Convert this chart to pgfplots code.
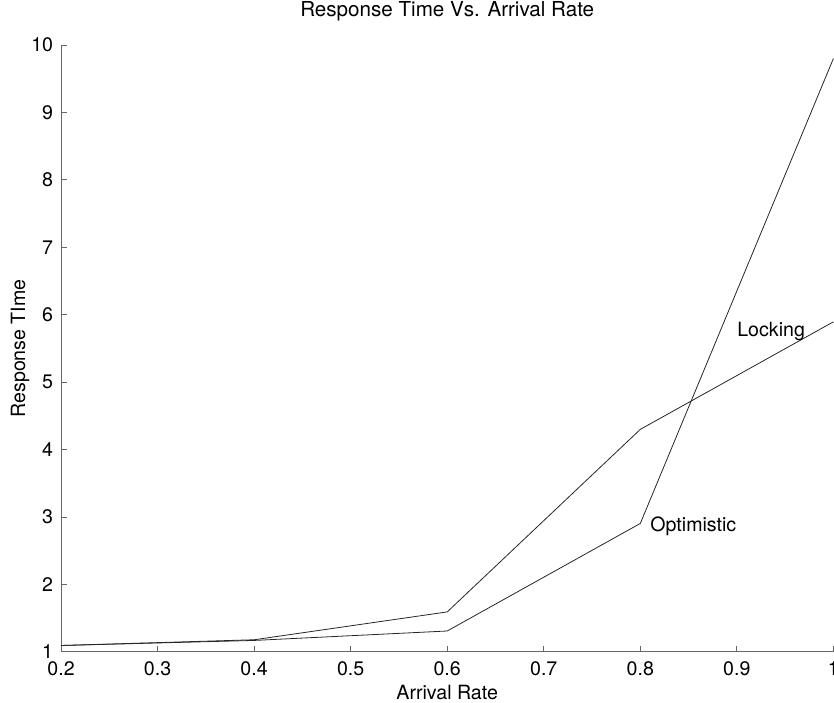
\documentclass[border=0pt]{standalone}
\usepackage{pgfplots}
\pgfplotsset{compat=1.18}
\usepackage{fontspec}
\setmainfont{TeX Gyre Heros}
\begin{document}
\begin{tikzpicture}
\fontsize{9.8}{11}\selectfont
\begin{axis}[
  scale only axis, width=386pt, height=303.3pt,
  xmin=0.2, xmax=1, ymin=1, ymax=10,
  xtick={0.2,0.3,0.4,0.5,0.6,0.7,0.8,0.9,1},
  ytick={1,2,...,10},
  axis lines*=left,
  axis line style={gray!80!black},
  tick style={gray!80!black, line width=0.5pt},
  tick align=inside, major tick length=3pt,
  /pgf/number format/assume math mode=true,
  xticklabel style={anchor=base, yshift=-12pt},
  yticklabel style={anchor=east, xshift=-0.5pt},
  title={Response Time Vs. Arrival Rate},
  title style={at={(axis description cs:0.5,1.0264)}, anchor=base, font=\fontsize{10.3}{12}\selectfont},
  xlabel={Arrival Rate},
  xlabel style={at={(axis description cs:0.5,-0.0791)}, anchor=base},
  ylabel={Response TIme},
  ylabel style={at={(axis description cs:-0.0466,0.5)}, anchor=base},
  clip=false,
]
\addplot[black!85, line width=0.4pt] coordinates {(0.2,1.095)(0.4,1.18)(0.6,1.593)(0.8,4.30)(1.0,5.895)};
\addplot[black!85, line width=0.4pt] coordinates {(0.2,1.095)(0.4,1.17)(0.6,1.31)(0.8,2.905)(1.0,9.80)};
\node[anchor=base west, inner sep=0pt] at (axis cs:0.9,5.68) {Locking};
\node[anchor=base west, inner sep=0pt] at (axis cs:0.81,2.78) {Optimistic};
\coordinate (bl) at (rel axis cs:0,0);
\coordinate (tr) at (rel axis cs:1,1);
\end{axis}
\pgfresetboundingbox
\useasboundingbox ([shift={(-30.5pt,-25.15pt)}]bl) rectangle ([shift={(0.3pt,22.5pt)}]tr);
\end{tikzpicture}
\end{document}
